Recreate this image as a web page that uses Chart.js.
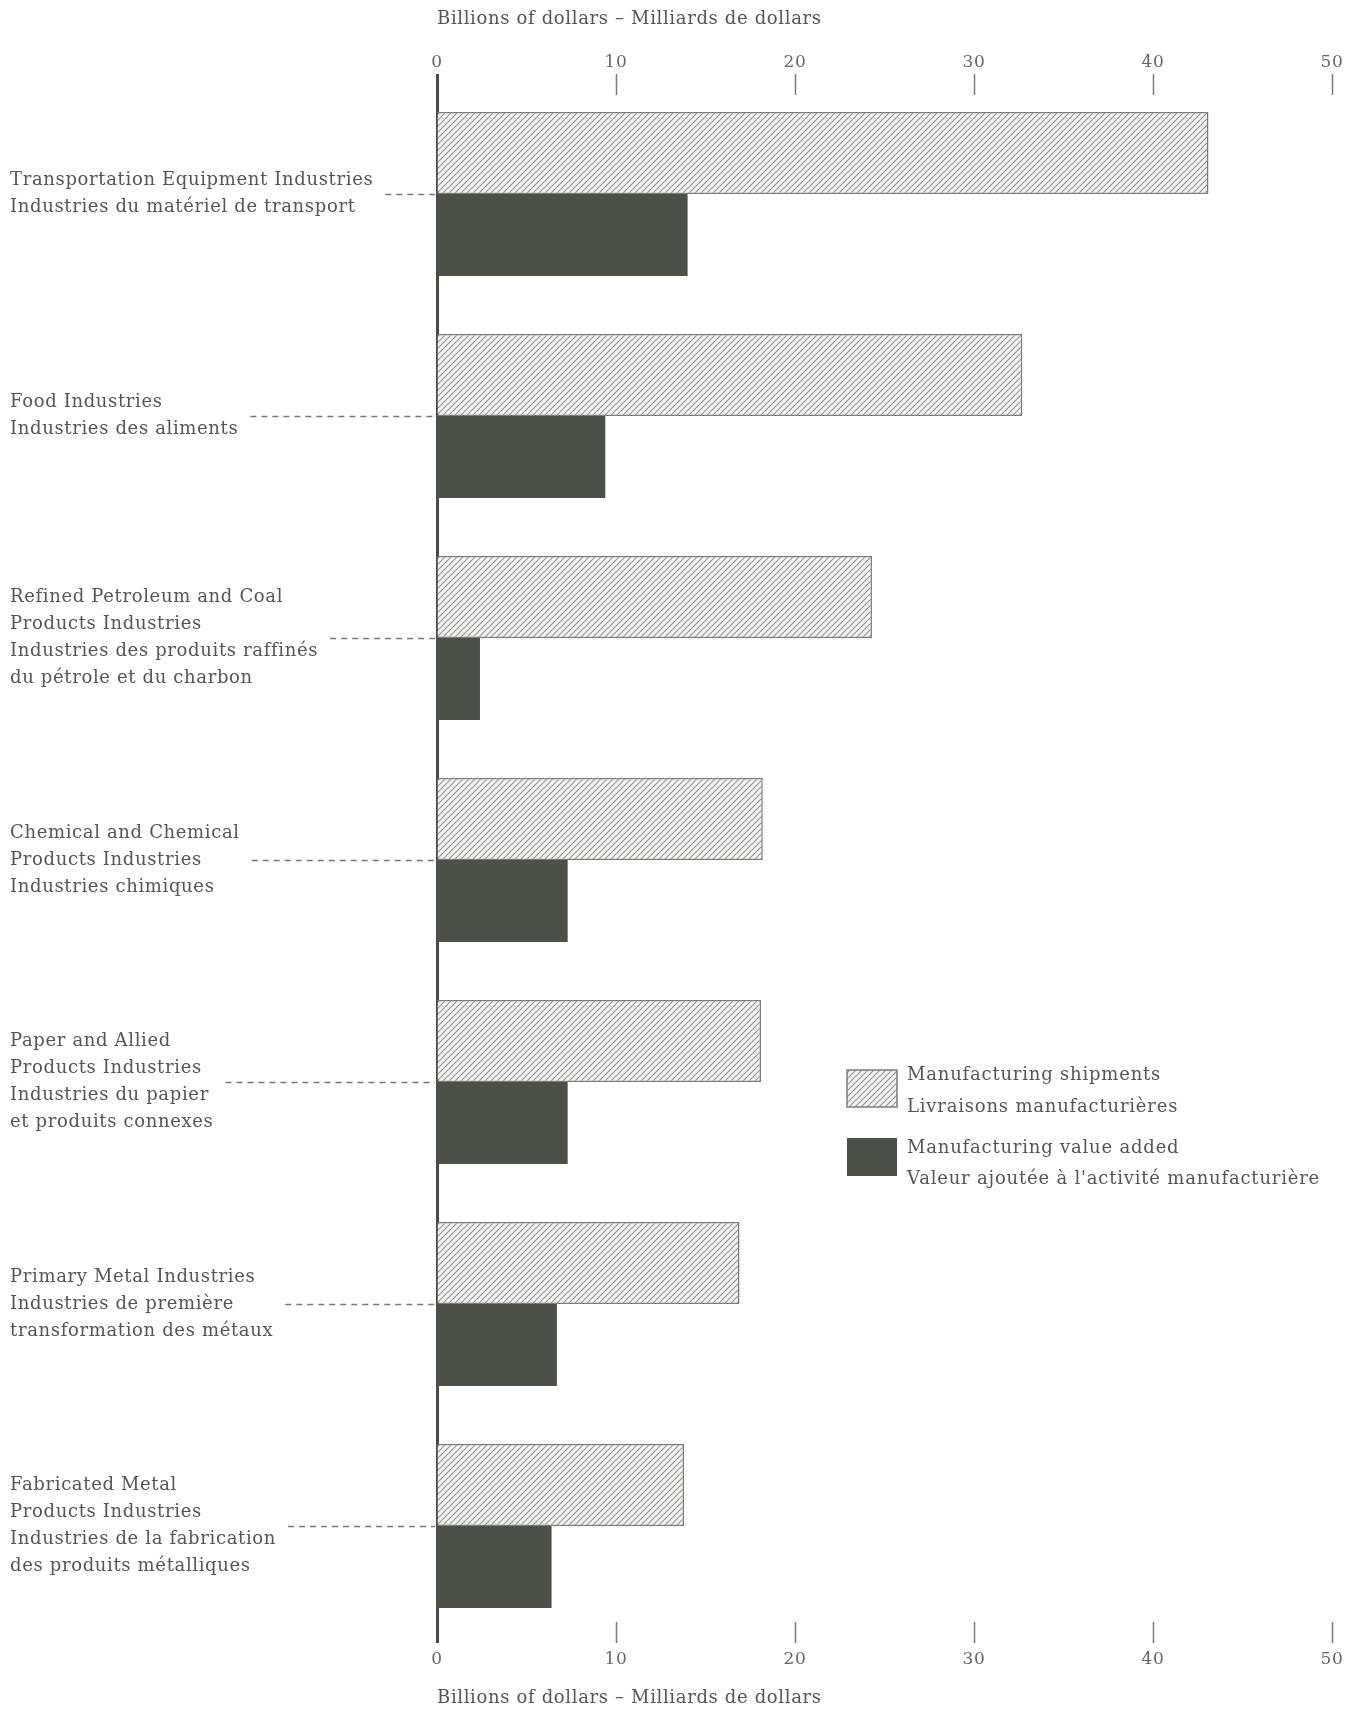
<!DOCTYPE html>
<html><head><meta charset="utf-8">
<script src="https://cdn.jsdelivr.net/npm/chart.js@4"></script>
<style>html,body{margin:0;padding:0;background:#fff}</style>
</head><body>
<canvas id="c" width="1364" height="1711"></canvas>
<script>
const categories = [
  ["Transportation Equipment Industries", "Industries du matériel de transport"],
  ["Food Industries", "Industries des aliments"],
  ["Refined Petroleum and Coal", "Products Industries", "Industries des produits raffinés", "du pétrole et du charbon"],
  ["Chemical and Chemical", "Products Industries", "Industries chimiques"],
  ["Paper and Allied", "Products Industries", "Industries du papier", "et produits connexes"],
  ["Primary Metal Industries", "Industries de première", "transformation des métaux"],
  ["Fabricated Metal", "Products Industries", "Industries de la fabrication", "des produits métalliques"]
];
const seriesNames = [
  ["Manufacturing shipments", "Livraisons manufacturières"],
  ["Manufacturing value added", "Valeur ajoutée à l'activité manufacturière"]
];
const shipments  = [43.1, 32.7, 24.3, 18.2, 18.1, 16.9, 13.8];
const valueAdded = [14.0, 9.4, 2.4, 7.3, 7.3, 6.7, 6.4];
const xTickValues = [0, 10, 20, 30, 40, 50];
const axisTitle = "Billions of dollars – Milliards de dollars";

const FONT = "DejaVu Serif";
const LABEL_SPACING = '0.65px';
const LEGEND_SPACING = '0.8px';
const canvas = document.getElementById('c');
const ctx = canvas.getContext('2d');

function makeHatch() {
  const s = 6;
  const c = document.createElement('canvas');
  c.width = s; c.height = s;
  const g = c.getContext('2d');
  g.fillStyle = '#f4f4f2';
  g.fillRect(0, 0, s, s);
  g.strokeStyle = '#929490';
  g.lineWidth = 1.1;
  g.beginPath();
  g.moveTo(0, s); g.lineTo(s, 0);
  g.moveTo(-2, 2); g.lineTo(2, -2);
  g.moveTo(s - 2, s + 2); g.lineTo(s + 2, s - 2);
  g.stroke();
  return ctx.createPattern(c, 'repeat');
}
const hatch = makeHatch();
const darkFill = '#4c5148';
const hatchBorder = '#7a7c77';

function xAxis(position, tickPad, titlePad) {
  return {
    type: 'linear', position: position, min: 0, max: 50,
    afterBuildTicks: s => { s.ticks = xTickValues.map(v => ({ value: v })); },
    grid: {
      display: true, drawOnChartArea: false, drawTicks: true, tickLength: 21,
      tickColor: c => (c.tick && c.tick.value === 0) ? '#4a4a4a' : '#7a7a7a',
      tickWidth: c => (c.tick && c.tick.value === 0) ? 3 : 1.5
    },
    border: { display: false },
    ticks: { font: { family: FONT, size: 17 }, color: '#666', padding: tickPad, maxRotation: 0 },
    title: { display: true, text: axisTitle, align: 'start', color: '#555',
             font: { family: FONT, size: 18 }, padding: titlePad }
  };
}

// the value axis line and category band extend a little past the x-axis tick marks
const yExtent = { top: 83, bottom: 1637 };

const spacingPlugin = {
  id: 'spacing',
  beforeUpdate(chart) { chart.ctx.letterSpacing = LABEL_SPACING; },
  beforeLayout(chart) { chart.ctx.letterSpacing = LABEL_SPACING; },
  beforeDraw(chart) { chart.ctx.letterSpacing = LABEL_SPACING; },
  afterLayout(chart) {
    const y = chart.scales.y;
    y.top = yExtent.top;
    y.bottom = yExtent.bottom;
    y.height = y.bottom - y.top;
    y.configure();
    y._gridLineItems = null;
    y._labelItems = null;
  }
};

const legendPlugin = {
  id: 'customLegend',
  afterDraw(chart) {
    const c = chart.ctx;
    c.save();
    // dashed leaders from each category label to the axis
    const yS = chart.scales.y;
    c.letterSpacing = LABEL_SPACING;
    c.font = '18px "' + FONT + '"';
    c.strokeStyle = '#777';
    c.lineWidth = 1.5;
    c.setLineDash([6, 5]);
    categories.forEach((lines, i) => {
      const w = Math.max(...lines.map(l => c.measureText(l).width));
      const y = Math.round(yS.getPixelForTick(i)) + 0.5;
      c.beginPath();
      c.moveTo(yS.left + w + 12, y);
      c.lineTo(chart.chartArea.left - 2, y);
      c.stroke();
    });
    c.setLineDash([]);
    // legend
    const ds = chart.data.datasets;
    const items = [
      { box: [847, 1070, 50, 37], lines: [1075, 1107] },
      { box: [847, 1138, 50, 38], lines: [1148, 1179] }
    ];
    c.letterSpacing = LEGEND_SPACING;
    items.forEach((it, i) => {
      const [bx, by, bw, bh] = it.box;
      c.fillStyle = ds[i].backgroundColor;
      c.fillRect(bx, by, bw, bh);
      if (ds[i].borderWidth) {
        c.strokeStyle = ds[i].borderColor;
        c.lineWidth = 1.5;
        c.strokeRect(bx, by, bw, bh);
      }
      c.fillStyle = '#555';
      c.textBaseline = 'middle';
      c.textAlign = 'left';
      seriesNames[i].forEach((t, j) => c.fillText(t, 907, it.lines[j]));
    });
    c.restore();
  }
};

new Chart(ctx, {
  type: 'bar',
  data: {
    labels: categories,
    datasets: [
      { label: seriesNames[0].join(' / '), data: shipments, backgroundColor: hatch,
        borderColor: hatchBorder, borderWidth: 1.5, categoryPercentage: 0.739, barPercentage: 1 },
      { label: seriesNames[1].join(' / '), data: valueAdded, backgroundColor: darkFill,
        borderWidth: 0, categoryPercentage: 0.739, barPercentage: 1 }
    ]
  },
  options: {
    indexAxis: 'y',
    responsive: false,
    animation: false,
    layout: { padding: { left: 10, right: 32, top: 0, bottom: 0 } },
    plugins: { legend: { display: false }, tooltip: { enabled: false } },
    scales: {
      x: xAxis('top', 1, { top: 9, bottom: 21 }),
      x2: xAxis('bottom', 6, { top: 12, bottom: 2 }),
      y: {
        grid: { display: false },
        border: { display: true, color: '#4a4a4a', width: 3 },
        ticks: { crossAlign: 'far', color: '#555', padding: 0,
                 font: { family: FONT, size: 18, lineHeight: 1.5 } },
        afterFit: s => { s.width = 427; }
      }
    }
  },
  plugins: [spacingPlugin, legendPlugin]
});
</script>
</body></html>
